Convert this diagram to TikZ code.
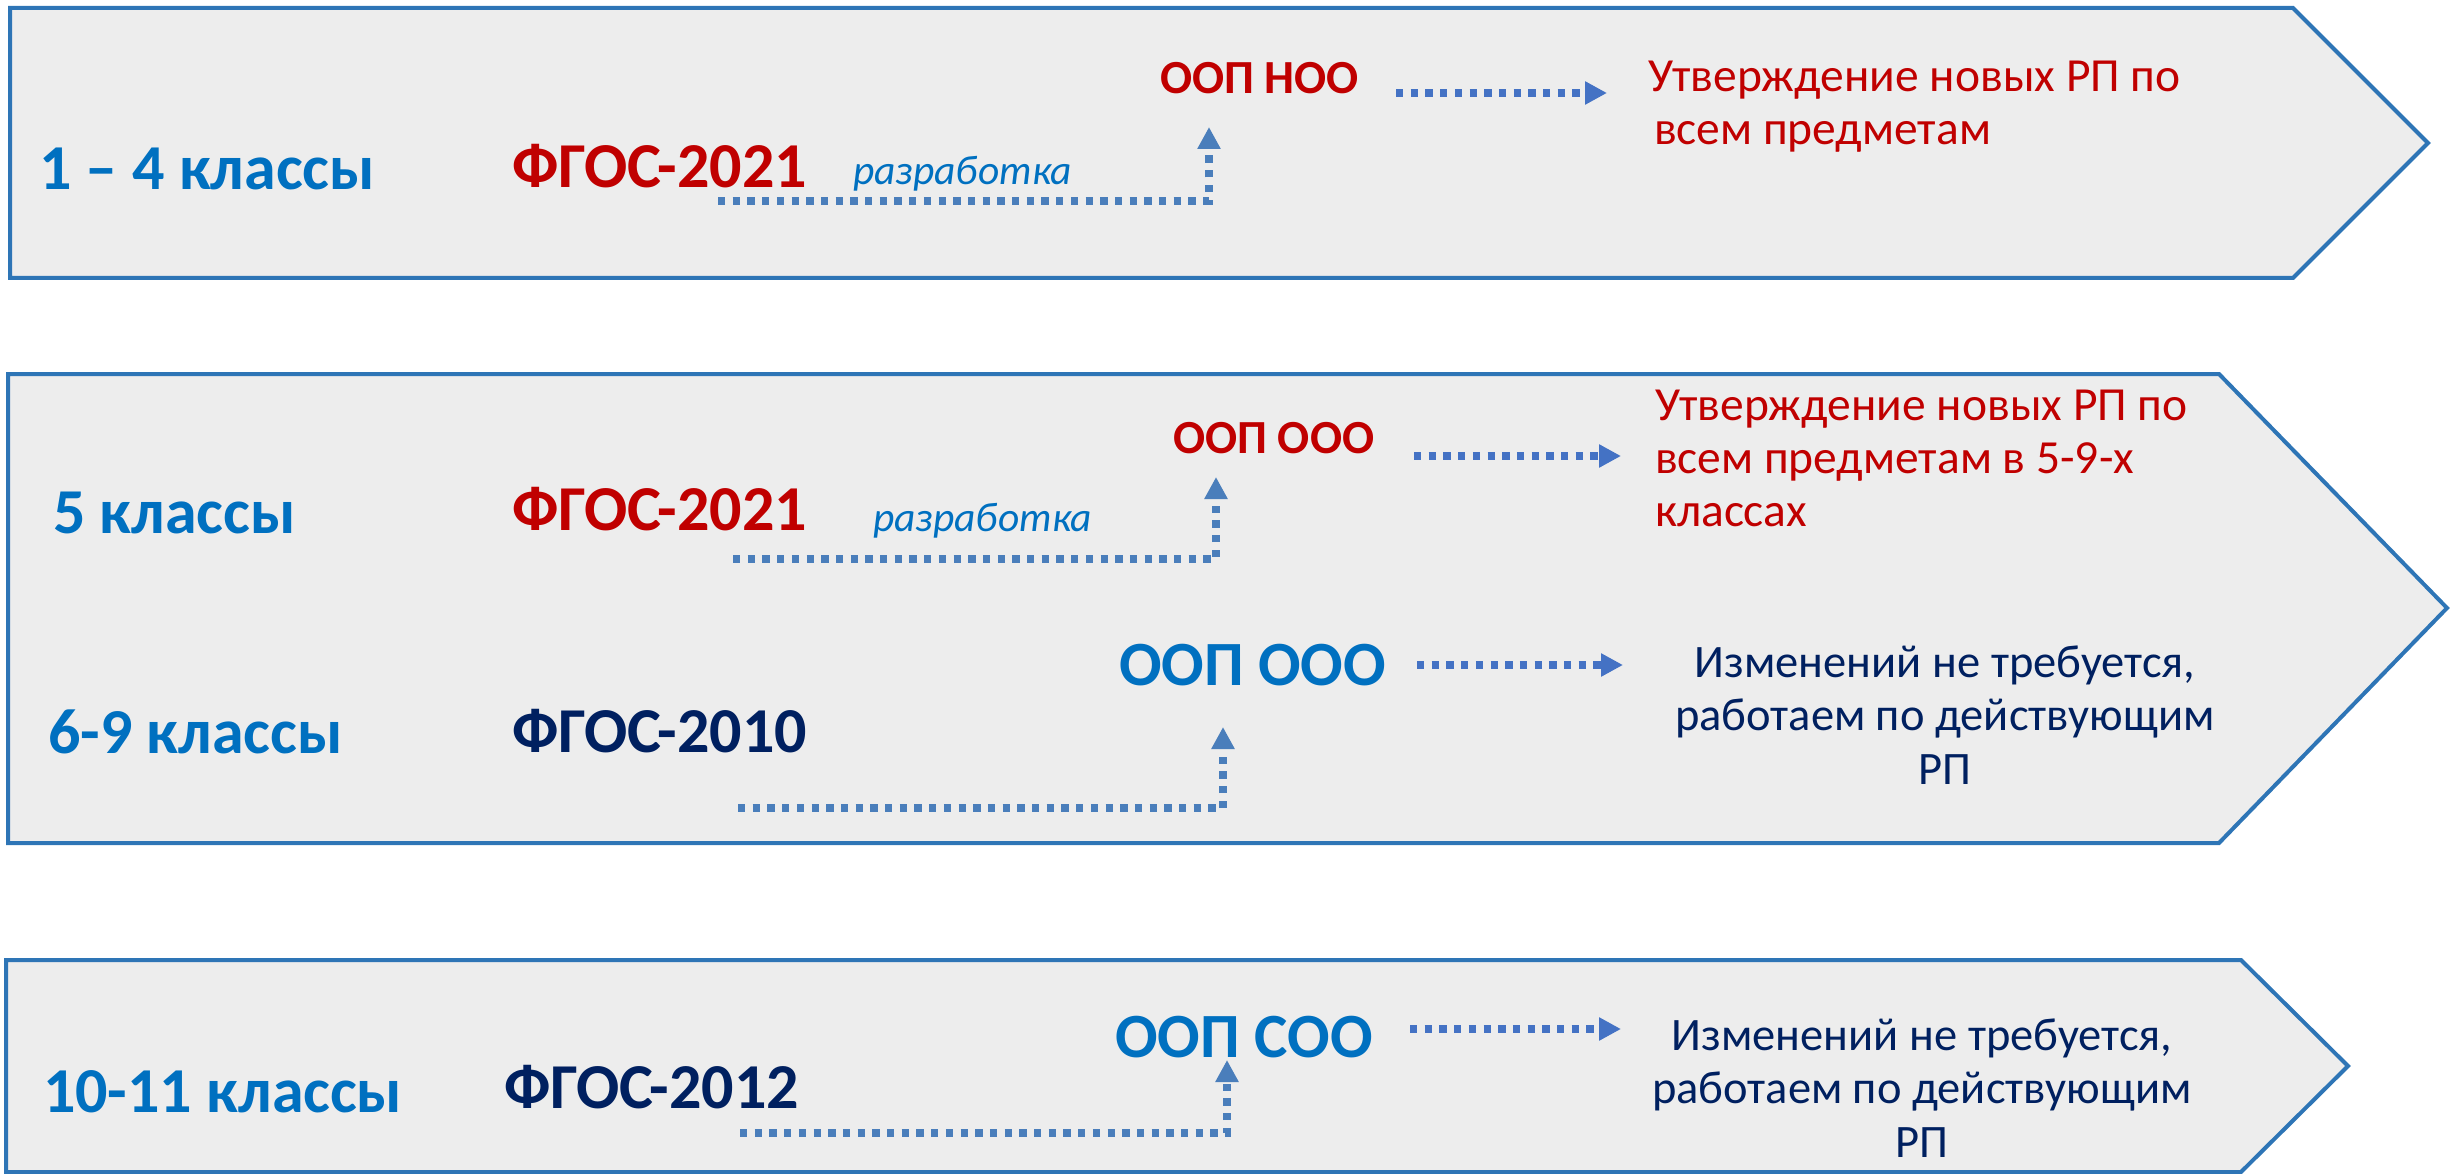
\documentclass[tikz,border=0pt]{standalone}
\usepackage{fontspec}
\setmainfont{Carlito}
\usetikzlibrary{arrows.meta}
\definecolor{panelfill}{HTML}{EDEDED}
\definecolor{panelline}{HTML}{2E75B6}
\definecolor{tblue}{HTML}{0070C0}
\definecolor{tred}{HTML}{C00000}
\definecolor{tnavy}{HTML}{002060}
\definecolor{arrblue}{HTML}{4472C4}
\definecolor{elbblue}{HTML}{4A7EBB}
\begin{document}
\begin{tikzpicture}[x=1pt,y=-1pt,
  panel/.style={draw=panelline,fill=panelfill,line width=4pt,line join=miter},
  lbl/.style={anchor=base west,inner sep=0pt,outer sep=0pt},
  grade/.style={lbl,text=tblue,font=\bfseries\fontsize{64}{77}\selectfont},
  fgos/.style={lbl,font=\bfseries\fontsize{64}{77}\selectfont},
  dev/.style={lbl,text=tblue,font=\itshape\fontsize{41.5}{49}\selectfont},
  oopsmall/.style={lbl,text=tred,font=\bfseries\fontsize{47.5}{56}\selectfont},
  oopbig/.style={lbl,text=tblue,font=\bfseries\fontsize{63}{75}\selectfont},
  resred/.style={lbl,text=tred,font=\fontsize{47.5}{53}\selectfont},
  resnavy/.style={anchor=base,inner sep=0pt,outer sep=0pt,text=tnavy,font=\fontsize{46.5}{53.5}\selectfont},
  flow/.style={draw=arrblue,line width=7.3pt,dash pattern=on 7.3pt off 7.4pt,-{Triangle[length=22pt,width=22pt]}},
  elbow/.style={draw=elbblue,line width=7.3pt,dash pattern=on 7.3pt off 7.4pt,-{Triangle[length=22pt,width=22pt]}}
]
\useasboundingbox (0,0) rectangle (2450,1174);
\clip (0,0) rectangle (2450,1174);

% panels
\draw[panel] (10,8) -- (2293,8) -- (2428,143) -- (2293,278) -- (10,278) -- cycle;
\draw[panel] (8,374) -- (2219,374) -- (2447,608) -- (2219,843) -- (8,843) -- cycle;
\draw[panel] (6,960) -- (2241,960) -- (2348,1066) -- (2241,1172) -- (6,1172) -- cycle;

% panel 1
\node[grade] (g1) at (39,190) {1 – 4 классы};
\node[fgos,text=tred] (f1) at (512,188) {ФГОС-2021};
\node[dev] (d1) at (853,185) {разработка};
\node[oopsmall] (o1) at (1160,94) {ООП НОО};
\node[resred] (r1) at (1648,92) {\begin{tabular}[t]{@{}l@{}}Утверждение новых РП по\\\hspace*{6pt}всем предметам\end{tabular}};
\coordinate (s1) at (718,201);
\coordinate (t1) at (1209,127);
\coordinate (a1s) at (1396,93);
\coordinate (a1e) at (1607,93);
\draw[elbow] (s1) -| (t1);
\draw[flow] (a1s) -- (a1e);

% panel 2 upper
\node[grade] (g2) at (53,533) {5 классы};
\node[fgos,text=tred] (f2) at (512,530) {ФГОС-2021};
\node[dev] (d2) at (873,531) {разработка};
\node[oopsmall] (o2) at (1173,453) {ООП ООО};
\node[resred] (r2) at (1655,420) {\begin{tabular}[t]{@{}l@{}}Утверждение новых РП по\\всем предметам в 5-9-х\\классах\end{tabular}};
\coordinate (s2) at (733,559);
\coordinate (t2) at (1216,477);
\coordinate (a2s) at (1414,456);
\coordinate (a2e) at (1621,456);
\draw[elbow] (s2) -| (t2);
\draw[flow] (a2s) -- (a2e);

% panel 2 lower
\node[grade] (g3) at (48,753) {6-9 классы};
\node[fgos,text=tnavy] (f3) at (512,752) {ФГОС-2010};
\node[oopbig] (o3) at (1119,685) {ООП ООО};
\node[resnavy] (r3) at (1945,677) {\begin{tabular}[t]{@{}c@{}}Изменений не требуется,\\работаем по действующим\\РП\end{tabular}};
\coordinate (s3) at (738,808);
\coordinate (t3) at (1223,727);
\coordinate (a3s) at (1417,665);
\coordinate (a3e) at (1623,665);
\draw[elbow] (s3) -| (t3);
\draw[flow] (a3s) -- (a3e);

% panel 3
\node[grade] (g4) at (43,1112) {10-11 классы};
\node[fgos,text=tnavy] (f4) at (504,1108) {ФГОС-2012};
\node[oopbig] (o4) at (1115,1057) {ООП СОО};
\node[resnavy] (r4) at (1922,1050) {\begin{tabular}[t]{@{}c@{}}Изменений не требуется,\\работаем по действующим\\РП\end{tabular}};
\coordinate (s4) at (740,1133);
\coordinate (t4) at (1227,1060);
\coordinate (a4s) at (1410,1029);
\coordinate (a4e) at (1621,1029);
\draw[elbow] (s4) -| (t4);
\draw[flow] (a4s) -- (a4e);
\end{tikzpicture}
\end{document}
